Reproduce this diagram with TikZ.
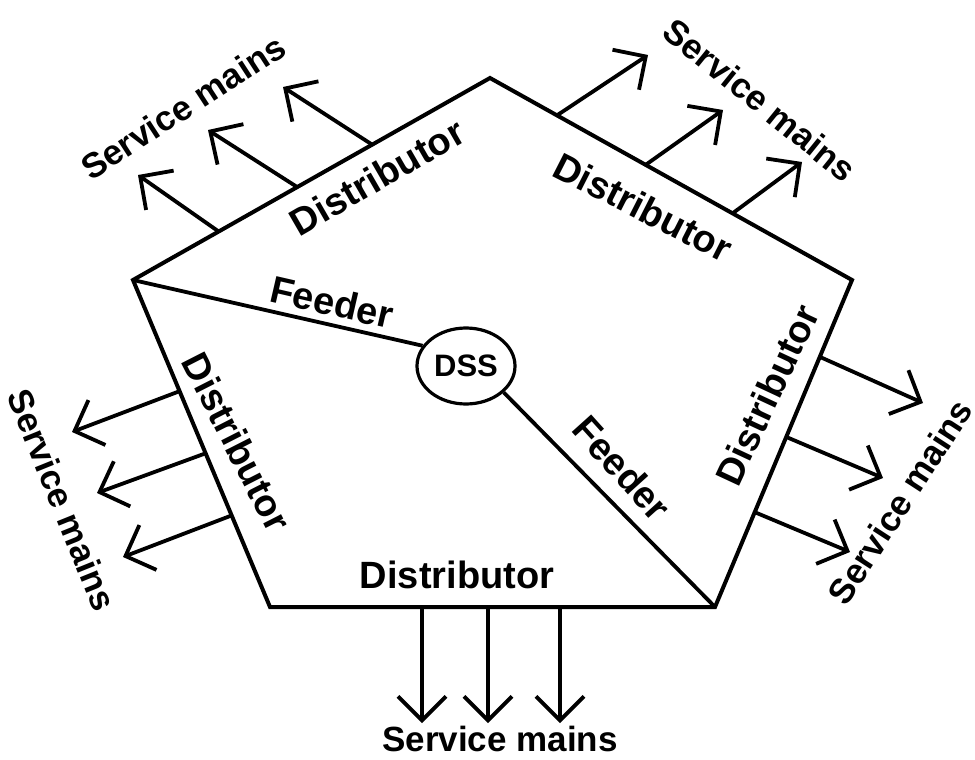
\documentclass[tikz,border=0pt]{standalone}
\usepackage{fontspec}
\setmainfont{Liberation Sans}
\usetikzlibrary{arrows.meta,shapes.geometric,calc}
\begin{document}
\begin{tikzpicture}[x=1pt,y=-1pt,
  edge/.style={line width=4pt, line join=miter},
  feed/.style={line width=3.8pt},
  smarrow/.style={line width=3.8pt,-{Straight Barb[length=24pt,width=48pt]}},
  lab/.style={font=\fontsize{38}{42}\selectfont\bfseries, inner sep=0pt},
  smlab/.style={font=\fontsize{35}{40}\selectfont\bfseries, inner sep=0pt},
]
\useasboundingbox (0,0) rectangle (975,760);
% pentagon
\coordinate (T) at (490,78);
\coordinate (R) at (852,280);
\coordinate (BR) at (715,607);
\coordinate (BL) at (270,607);
\coordinate (L) at (133,280);
\draw[edge] (T) -- (R) -- (BR) -- (BL) -- (L) -- cycle;
% DSS
\node[ellipse, draw, line width=3.2pt, minimum width=98pt, minimum height=76pt, inner sep=0pt,
  font=\fontsize{31}{35}\selectfont\bfseries] (dss) at (466,366) {DSS};
\draw[feed] (L) -- (dss.155);
\draw[feed] (dss.-35) -- (BR);
% top-left service mains
\coordinate (a1) at ($(L)!0.24!(T)$);  \coordinate (ta1) at (138,175);
\coordinate (a2) at ($(L)!0.46!(T)$);  \coordinate (ta2) at (208,130);
\coordinate (a3) at ($(L)!0.67!(T)$);  \coordinate (ta3) at (283,87);
\draw[smarrow] (a1) -- (ta1);
\draw[smarrow] (a2) -- (ta2);
\draw[smarrow] (a3) -- (ta3);
% top-right
\coordinate (b1) at ($(T)!0.185!(R)$); \coordinate (tb1) at (648,55);
\coordinate (b2) at ($(T)!0.43!(R)$);  \coordinate (tb2) at (723,110);
\coordinate (b3) at ($(T)!0.67!(R)$);  \coordinate (tb3) at (802,162);
\draw[smarrow] (b1) -- (tb1);
\draw[smarrow] (b2) -- (tb2);
\draw[smarrow] (b3) -- (tb3);
% right
\coordinate (c1) at ($(R)!0.235!(BR)$); \coordinate (tc1) at (923,403);
\coordinate (c2) at ($(R)!0.48!(BR)$);  \coordinate (tc2) at (883,478);
\coordinate (c3) at ($(R)!0.71!(BR)$);  \coordinate (tc3) at (850,552);
\draw[smarrow] (c1) -- (tc1);
\draw[smarrow] (c2) -- (tc2);
\draw[smarrow] (c3) -- (tc3);
% bottom
\coordinate (d1) at (422,607); \coordinate (td1) at (422,723);
\coordinate (d2) at (488,607); \coordinate (td2) at (488,723);
\coordinate (d3) at (560,607); \coordinate (td3) at (560,723);
\draw[smarrow] (d1) -- (td1);
\draw[smarrow] (d2) -- (td2);
\draw[smarrow] (d3) -- (td3);
% left
\coordinate (e1) at ($(L)!0.34!(BL)$); \coordinate (te1) at (72,432);
\coordinate (e2) at ($(L)!0.53!(BL)$); \coordinate (te2) at (97,493);
\coordinate (e3) at ($(L)!0.72!(BL)$); \coordinate (te3) at (123,557);
\draw[smarrow] (e1) -- (te1);
\draw[smarrow] (e2) -- (te2);
\draw[smarrow] (e3) -- (te3);
% distributor labels
\node[lab, rotate=30]  (dtl) at (377,177) {Distributor};
\node[lab, rotate=-27] (dtr) at (643,207) {Distributor};
\node[lab, rotate=65]  (dr)  at (767,395) {Distributor};
\node[lab, rotate=-63] (dl)  at (237,442) {Distributor};
\node[lab]             (db)  at (457,575) {Distributor};
% feeder labels
\node[lab, rotate=-13] (f1) at (332,302) {Feeder};
\node[lab, rotate=-48] (f2) at (622,468) {Feeder};
% service mains labels
\node[smlab, rotate=33]  (stl) at (183,107) {Service mains};
\node[smlab, rotate=-39] (str) at (760,100) {Service mains};
\node[smlab, rotate=57]  (sr)  at (900,502) {Service mains};
\node[smlab, rotate=-68] (sl)  at (62,500)  {Service mains};
\node[smlab]             (sb)  at (500,739) {Service mains};
\end{tikzpicture}
\end{document}
